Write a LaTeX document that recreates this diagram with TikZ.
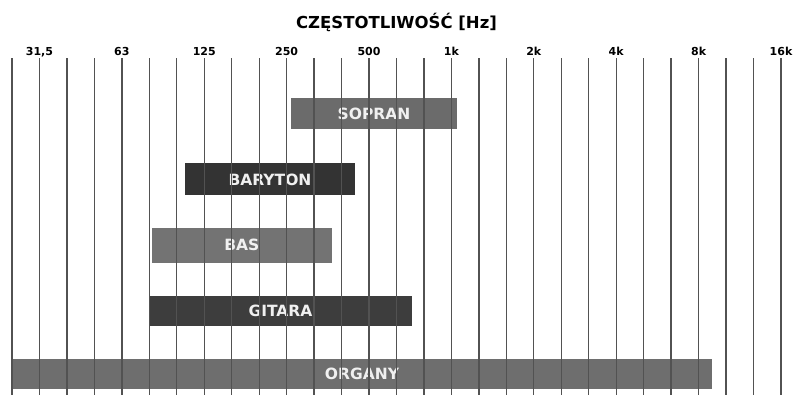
\documentclass[tikz,border=0pt]{standalone}
\usepackage{fontspec}
\setmainfont{DejaVu Sans}
\begin{document}
\begin{tikzpicture}[x=1pt,y=1pt,
  bar/.style={inner sep=0pt, outer sep=0pt, text=black!6, anchor=center,
    font=\fontsize{15.5}{18}\selectfont\bfseries},
  grid line/.style={draw=black!68, line width=1.3pt},
  tick label/.style={font=\fontsize{11}{12}\selectfont\bfseries, inner sep=0pt, anchor=base},
  title/.style={font=\fontsize{16.5}{20}\selectfont\bfseries, inner sep=0pt}]
\useasboundingbox[fill=white] (0,0) rectangle (793,-395);
\node[title] (title) at (396.5,-22) {CZĘSTOTLIWOŚĆ [Hz]};
% bars
\node[bar, fill=black!58, minimum width=166pt, minimum height=31pt] (sopran) at (374,-113.8) {SOPRAN};
\node[bar, fill=black!80, minimum width=170pt, minimum height=32pt] (baryton) at (270,-179.5) {BARYTON};
\node[bar, fill=black!55, minimum width=180pt, minimum height=35pt] (bas) at (241.8,-245.2) {BAS};
\node[bar, fill=black!76, minimum width=262pt, minimum height=30.5pt] (gitara) at (280.5,-311) {GITARA};
\node[bar, fill=black!57, minimum width=700pt, minimum height=30pt] (organy) at (362,-374) {ORGANY};
% tick labels
\foreach \i/\t in {1/{31,5},4/63,7/125,10/250,13/500,16/1k,19/2k,22/4k,25/8k,28/16k}{
  \node[tick label] (t\i) at ({12+769/28*\i},-55.5) {\t};
}
% grid lines
\foreach \i in {0,...,28}{
  \draw[grid line] ({12+769/28*\i},-58.3) -- ({12+769/28*\i},-395);
}
\end{tikzpicture}
\end{document}
